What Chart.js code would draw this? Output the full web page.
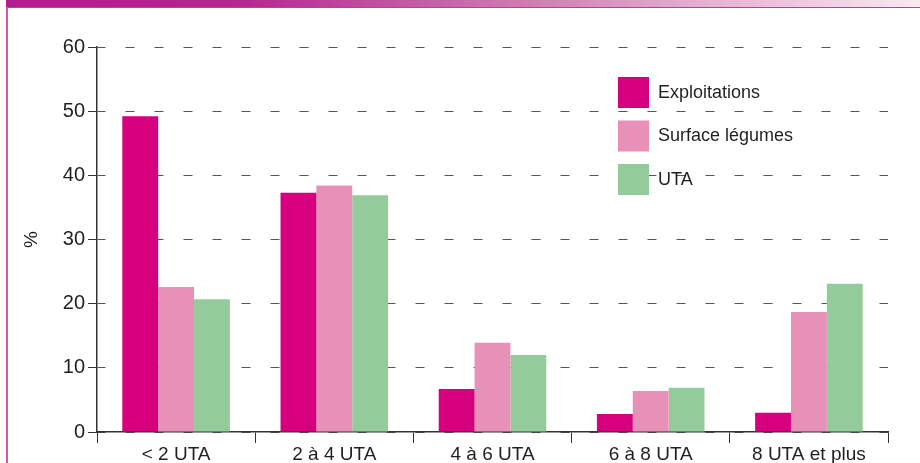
<!DOCTYPE html>
<html>
<head>
<meta charset="utf-8">
<script src="https://cdn.jsdelivr.net/npm/chart.js@4"></script>
<style>
  html, body { margin: 0; padding: 0; background: #fff; }
  #wrap { position: relative; width: 920px; height: 463px; overflow: hidden; }
  #band { position: absolute; left: 6px; top: 0; width: 914px; height: 7px;
    background: linear-gradient(to right, #b31e8e 0%, #b5248f 25%, #c76aa9 50%, #e2add0 75%, #fce8f2 100%); }
  #topline { position: absolute; left: 6px; top: 7px; width: 914px; height: 1px; background: #c2399f; }
  #leftline { position: absolute; left: 6px; top: 7px; width: 2px; height: 456px; background: #d552b6; }
  canvas { position: absolute; left: 0; top: 0; }
</style>
</head>
<body>
<div id="wrap">
  <div id="band"></div>
  <div id="topline"></div>
  <div id="leftline"></div>
  <canvas id="c" width="920" height="463"></canvas>
</div>
<script>
const categories = ['< 2 UTA', '2 à 4 UTA', '4 à 6 UTA', '6 à 8 UTA', '8 UTA et plus'];
const exploitations = [49.2, 37.3, 6.7, 2.8, 3.0];
const surfaceLegumes = [22.6, 38.4, 13.9, 6.4, 18.7];
const uta = [20.7, 36.9, 12.0, 6.9, 23.1];
const seriesNames = ['Exploitations', 'Surface légumes', 'UTA'];
const yTicks = [0, 10, 20, 30, 40, 50, 60];

const FONT = "'Liberation Sans', Arial, sans-serif";
const TEXT = '#231f20';

// legend drawn on top of the grid, inside the plot
const boxLegend = {
    id: 'boxLegend',
    afterDraw(chart) {
        const ctx = chart.ctx;
        ctx.save();
        ctx.font = '18px ' + FONT;
        ctx.textBaseline = 'middle';
        chart.data.datasets.forEach(function(ds, i) {
            const y = 77 + i * 43.5;
            ctx.fillStyle = ds.backgroundColor;
            ctx.fillRect(618, y, 31, 31);
            ctx.fillStyle = TEXT;
            ctx.fillText(ds.label, 658, y + 16);
        });
        ctx.restore();
    }
};

new Chart(document.getElementById('c'), {
    type: 'bar',
    data: {
        labels: categories,
        datasets: [
            { label: seriesNames[0], data: exploitations, backgroundColor: '#d6007f' },
            { label: seriesNames[1], data: surfaceLegumes, backgroundColor: '#e891b8' },
            { label: seriesNames[2], data: uta, backgroundColor: '#93cb9a' }
        ]
    },
    options: {
        responsive: false,
        animation: false,
        devicePixelRatio: 1,
        layout: { padding: { top: 47, right: 32, left: 0, bottom: 0 } },
        datasets: { bar: { categoryPercentage: 0.68, barPercentage: 1.0 } },
        plugins: { legend: { display: false }, tooltip: { enabled: false } },
        scales: {
            x: {
                grid: { drawOnChartArea: false, offset: true, tickLength: 11, color: '#333' },
                border: { color: '#333', width: 1.5 },
                ticks: { font: { size: 19, family: FONT }, color: TEXT, padding: 0, maxRotation: 0 },
                afterFit(s) { s.height = 31; }
            },
            y: {
                min: 0,
                max: 60,
                afterBuildTicks(s) { s.ticks = yTicks.map(v => ({ value: v })); },
                grid: { color: '#555', tickLength: 9, tickColor: '#333', tickBorderDash: [] },
                border: { color: '#333', width: 1.5, dash: [9, 20], dashOffset: 1 },
                ticks: { font: { size: 20, family: FONT }, color: TEXT, padding: 3 },
                title: { display: true, text: '%', font: { size: 19, family: FONT }, color: TEXT, padding: { top: 20, bottom: 0 } },
                afterFit(s) { s.width = 97; }
            }
        }
    },
    plugins: [boxLegend]
});
</script>
</body>
</html>
